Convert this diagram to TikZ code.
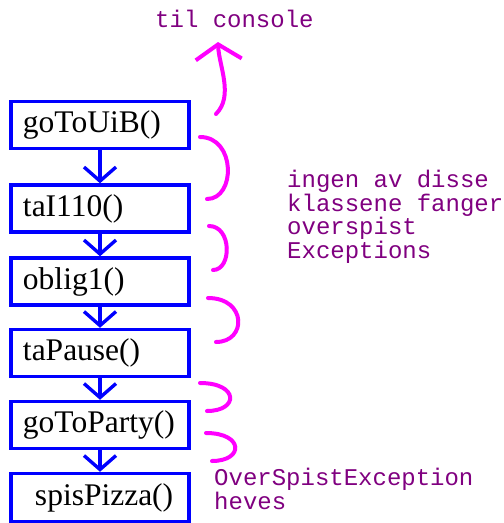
\documentclass[tikz,border=0pt]{standalone}
\usepackage{fontspec}
\setmainfont{Liberation Serif}
\newfontfamily\monofont{Liberation Mono}
\usetikzlibrary{arrows.meta}
\definecolor{boxblue}{RGB}{0,0,255}
\definecolor{mag}{RGB}{255,0,255}
\definecolor{note}{RGB}{128,0,128}
\tikzset{
  call/.style={draw=boxblue, line width=3.4pt, rectangle, minimum width=178pt, minimum height=47pt,
    text width=154pt, inner xsep=12pt, inner ysep=0pt, align=left, font=\fontsize{31.5}{31.5}\selectfont},
  flow/.style={draw=boxblue, line width=3.4pt, -{Straight Barb[length=14pt,width=32pt,line width=3.4pt]}},
  brace/.style={draw=mag, line width=4pt, line cap=round},
  notetext/.style={text=note, anchor=base west, inner sep=0pt, align=left, font=\monofont\fontsize{24}{23.5}\selectfont}
}
\begin{document}
\begin{tikzpicture}[x=1pt,y=-1pt]
\useasboundingbox (0,0) rectangle (504,523);
\node[call] (a) at (100,125) {\raisebox{2pt}{goToUiB()}};
\node[call] (b) at (100,208.5) {\raisebox{2pt}{taI110()}};
\node[call] (c) at (100,281.5) {\raisebox{2pt}{oblig1()}};
\node[call] (d) at (100,353) {\raisebox{2pt}{taPause()}};
\node[call] (e) at (100,425) {\raisebox{2pt}{goToParty()}};
\node[call, minimum height=48pt] (f) at (100,497.5) {\hspace*{12pt}\raisebox{3pt}{spisPizza()}};
\draw[flow] (a.south) -- (b.north);
\draw[flow] (b.south) -- (c.north);
\draw[flow] (c.south) -- (d.north);
\draw[flow] (d.south) -- (e.north);
\draw[flow] (e.south) -- (f.north);
% upward arrow
\coordinate (u0) at (216,114);
\coordinate (u1) at (218,42);
\draw[brace, -{Straight Barb[length=15pt,width=46pt,line width=4pt]}] (u0) .. controls (234,96) and (219,66) .. (u1);
% braces
\coordinate (p1a) at (200,137); \coordinate (p1b) at (207,199);
\draw[brace] (p1a) .. controls (236,137) and (236,199) .. (p1b);
\coordinate (p2a) at (209,226); \coordinate (p2b) at (213,270);
\draw[brace] (p2a) .. controls (232,226) and (232,270) .. (p2b);
\coordinate (p3a) at (208,298); \coordinate (p3b) at (216,342);
\draw[brace] (p3a) .. controls (247,298) and (247,342) .. (p3b);
\coordinate (p4a) at (200,383); \coordinate (p4b) at (207,411);
\draw[brace] (p4a) .. controls (239,383) and (239,411) .. (p4b);
\coordinate (p5a) at (206,433); \coordinate (p5b) at (212,461);
\draw[brace] (p5a) .. controls (244,433) and (244,461) .. (p5b);
% texts
\node[notetext] (t1) at (155,27) {til console};
\node[notetext] (t2) at (287,258) {ingen av disse\\klassene fanger\\overspist\\Exceptions};
\node[notetext] (t3) at (214,509) {OverSpistException\\heves};
\end{tikzpicture}
\end{document}
